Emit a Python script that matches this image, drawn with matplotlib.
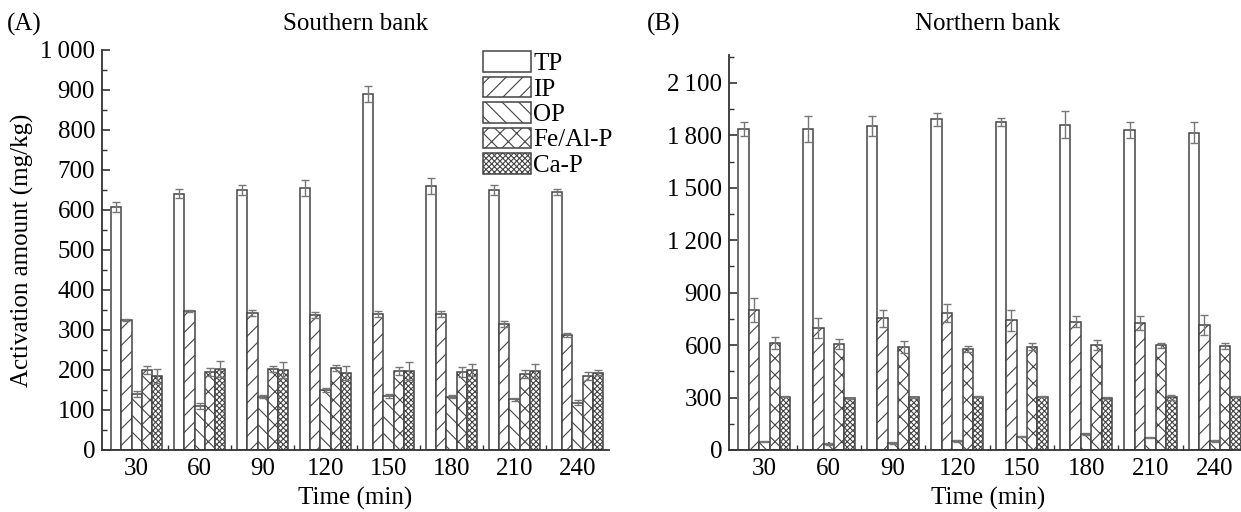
import numpy as np
import matplotlib
matplotlib.use('Agg')
import matplotlib.pyplot as plt
from matplotlib.ticker import FuncFormatter, MultipleLocator

plt.rcParams['font.family'] = ['Liberation Serif', 'DejaVu Serif']
plt.rcParams['hatch.linewidth'] = 0.8
plt.rcParams['hatch.color'] = '#555555'

# time points (min)
times = ['30', '60', '90', '120', '150', '180', '210', '240']
fractions = ['TP', 'IP', 'OP', 'Fe/Al-P', 'Ca-P']
hatches = ['', '//', '\\\\', 'xx', 'xxxxxx']

# southern bank (mg/kg)
south_tp = [607, 641, 650, 655, 890, 660, 650, 645]
south_ip = [325, 347, 343, 338, 340, 340, 315, 288]
south_op = [140, 110, 133, 150, 135, 133, 127, 118]
south_fe = [200, 195, 202, 205, 198, 195, 190, 185]
south_ca = [185, 202, 200, 193, 198, 200, 197, 193]
south_tp_err = [12, 12, 13, 20, 20, 20, 12, 8]
south_ip_err = [3, 3, 8, 8, 7, 8, 8, 5]
south_op_err = [8, 8, 4, 4, 4, 4, 4, 6]
south_fe_err = [10, 10, 8, 8, 10, 12, 10, 10]
south_ca_err = [18, 20, 20, 18, 22, 15, 18, 6]

# northern bank (mg/kg)
north_tp = [1837, 1837, 1853, 1891, 1876, 1862, 1830, 1815]
north_ip = [802, 697, 754, 783, 741, 735, 726, 716]
north_op = [48, 34, 38, 53, 76, 92, 71, 53]
north_fe = [611, 607, 588, 577, 592, 602, 598, 596]
north_ca = [306, 296, 302, 306, 306, 296, 302, 306]
north_tp_err = [38, 75, 57, 38, 25, 76, 46, 61]
north_ip_err = [67, 57, 48, 53, 61, 29, 42, 57]
north_op_err = [5, 5, 5, 5, 4, 4, 4, 5]
north_fe_err = [34, 27, 34, 19, 19, 29, 15, 19]
north_ca_err = [5, 3, 3, 5, 5, 5, 15, 5]

FS = 18
W = 1241 / 100
H = 512 / 100


def thousands(v, pos):
    s = f'{int(round(v)):,}'
    return s.replace(',', '\u2009')


def draw_panel(ax, values, errors, ymax, major, minor):
    x = np.arange(len(times))
    bw = 0.162
    for i, (vals, errs) in enumerate(zip(values, errors)):
        ax.bar(x + (i - 2) * bw, vals, width=bw, color='white',
               edgecolor='#444444', linewidth=1.1, hatch=hatches[i],
               label=fractions[i], zorder=2)
        ax.errorbar(x + (i - 2) * bw, vals, yerr=errs, fmt='none',
                    ecolor='#777777', elinewidth=1.0, capsize=3,
                    capthick=1.0, zorder=3)
    ax.set_xlim(-0.55, 7.5)
    ax.set_ylim(0, ymax)
    ax.set_xticks(x)
    ax.set_xticklabels(times)
    ax.set_xticks(x[:-1] + 0.5, minor=True)
    ax.yaxis.set_major_locator(MultipleLocator(major))
    ax.yaxis.set_minor_locator(MultipleLocator(minor))
    ax.yaxis.set_major_formatter(FuncFormatter(thousands))
    for s in ['top', 'right']:
        ax.spines[s].set_visible(False)
    for s in ['left', 'bottom']:
        ax.spines[s].set_linewidth(1.3)
        ax.spines[s].set_color('#333333')
    ax.tick_params(axis='both', which='both', direction='in',
                   labelsize=FS, color='#333333')
    ax.tick_params(axis='both', which='major', length=6, width=1.2)
    ax.tick_params(axis='both', which='minor', length=3.5, width=1.0)
    ax.tick_params(axis='x', which='major', pad=6)
    ax.tick_params(axis='y', which='major', pad=5)
    ax.set_xlabel('Time (min)', fontsize=FS, labelpad=5)


fig = plt.figure(figsize=(W, H), dpi=100)

ax1 = fig.add_axes([102 / 1241, 62 / 512, 507 / 1241, 400 / 512])
draw_panel(ax1,
           [south_tp, south_ip, south_op, south_fe, south_ca],
           [south_tp_err, south_ip_err, south_op_err, south_fe_err, south_ca_err],
           1000, 100, 50)
ax1.set_ylabel('Activation amount (mg/kg)', fontsize=FS)
ax1.yaxis.set_label_coords(-0.135, 0.5)

ax2 = fig.add_axes([729 / 1241, 62 / 512, 518 / 1241, 395 / 512])
draw_panel(ax2,
           [north_tp, north_ip, north_op, north_fe, north_ca],
           [north_tp_err, north_ip_err, north_op_err, north_fe_err, north_ca_err],
           2260, 300, 150)

fig.text(356 / 1241, 1 - 24 / 512, 'Southern bank', fontsize=FS,
         ha='center', va='center')
fig.text(988 / 1241, 1 - 24 / 512, 'Northern bank', fontsize=FS,
         ha='center', va='center')
fig.text(7 / 1241, 1 - 24 / 512, '(A)', fontsize=FS, ha='left', va='center')
fig.text(647 / 1241, 1 - 24 / 512, '(B)', fontsize=FS, ha='left', va='center')

leg = ax1.legend(loc='upper left', bbox_to_anchor=(483 / 1241, 1 - 51 / 512),
                 bbox_transform=fig.transFigure, frameon=False, fontsize=FS,
                 handlelength=1.92, handleheight=0.9, labelspacing=0.06,
                 handletextpad=0.1, borderpad=0, borderaxespad=0)

fig.savefig('out.png', dpi=100)
